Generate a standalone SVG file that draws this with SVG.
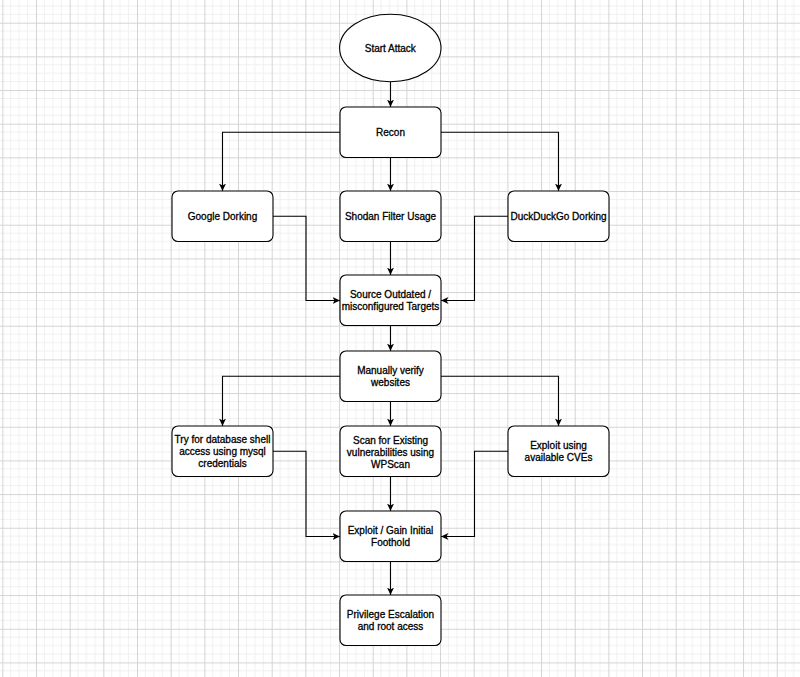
<svg xmlns="http://www.w3.org/2000/svg" width="800" height="677" viewBox="0 0 800 677">
  <defs>
    <pattern id="grid" patternUnits="userSpaceOnUse" x="2.33" y="22.7" width="33.67" height="33.67">
      <g stroke="#f0f0f0" stroke-width="1" fill="none">
        <line x1="8.42" y1="0" x2="8.42" y2="33.67"/>
        <line x1="16.83" y1="0" x2="16.83" y2="33.67"/>
        <line x1="25.25" y1="0" x2="25.25" y2="33.67"/>
        <line x1="0" y1="8.42" x2="33.67" y2="8.42"/>
        <line x1="0" y1="16.83" x2="33.67" y2="16.83"/>
        <line x1="0" y1="25.25" x2="33.67" y2="25.25"/>
      </g>
      <g stroke="#d4d4d4" stroke-width="1" fill="none">
        <line x1="0.5" y1="0" x2="0.5" y2="33.67"/>
        <line x1="0" y1="0.5" x2="33.67" y2="0.5"/>
      </g>
    </pattern>
    <marker id="arrow" viewBox="0 0 8 8" refX="7.5" refY="4" markerWidth="8" markerHeight="8" markerUnits="userSpaceOnUse" orient="auto">
      <path d="M0,0.5 L7.5,4 L0,7.5 L2,4 z" fill="#000"/>
    </marker>
  </defs>
  <style>
    .node { fill: #ffffff; stroke: #000000; stroke-width: 1.1; }
    .label { font-family: "Liberation Sans", Arial, Helvetica, sans-serif; font-size: 10px; fill: #000; text-anchor: middle; stroke: #000; stroke-width: 0.3; }
    .edge { fill: none; stroke: #000; stroke-width: 1.1; marker-end: url(#arrow); }
  </style>
  <rect x="0" y="0" width="800" height="677" fill="#ffffff"/>
  <rect x="0" y="0" width="800" height="677" fill="url(#grid)"/>

  <g id="connectors">
    <path class="edge" d="M390.5,82 L390.5,107"/>
    <path class="edge" d="M340,132.3 L222.5,132.3 L222.5,191"/>
    <path class="edge" d="M390.5,157.5 L390.5,191"/>
    <path class="edge" d="M441,132.3 L558.5,132.3 L558.5,191"/>
    <path class="edge" d="M273,216.3 L306,216.3 L306,300.5 L340,300.5"/>
    <path class="edge" d="M390.5,241.5 L390.5,275"/>
    <path class="edge" d="M508,216.3 L474.5,216.3 L474.5,300.5 L441,300.5"/>
    <path class="edge" d="M390.5,325.5 L390.5,351"/>
    <path class="edge" d="M340,376.3 L222.5,376.3 L222.5,426"/>
    <path class="edge" d="M390.5,401.5 L390.5,426"/>
    <path class="edge" d="M441,376.3 L558.5,376.3 L558.5,426"/>
    <path class="edge" d="M273,451.3 L306,451.3 L306,536.5 L340,536.5"/>
    <path class="edge" d="M390.5,477 L390.5,511"/>
    <path class="edge" d="M508,451.3 L474.5,451.3 L474.5,536.5 L441,536.5"/>
    <path class="edge" d="M390.5,561.5 L390.5,595"/>
  </g>

  <g id="start">
    <ellipse class="node" cx="390.3" cy="48" rx="50.7" ry="33.7"/>
    <text class="label" x="390.3" y="51.6">Start Attack</text>
  </g>
  <g id="recon">
    <rect class="node" x="340" y="107" width="101" height="50.5" rx="6"/>
    <text class="label" x="390.5" y="135.8">Recon</text>
  </g>
  <g id="google">
    <rect class="node" x="172" y="191" width="101" height="50.5" rx="6"/>
    <text class="label" x="222.5" y="219.8">Google Dorking</text>
  </g>
  <g id="shodan">
    <rect class="node" x="340" y="191" width="101" height="50.5" rx="6"/>
    <text class="label" x="390.5" y="219.8">Shodan Filter Usage</text>
  </g>
  <g id="duckduckgo">
    <rect class="node" x="508" y="191" width="101" height="50.5" rx="6"/>
    <text class="label" x="558.5" y="219.8">DuckDuckGo Dorking</text>
  </g>
  <g id="source">
    <rect class="node" x="340" y="275" width="101" height="50.5" rx="6"/>
    <text class="label" x="390.5" y="298.3">Source Outdated /</text>
    <text class="label" x="390.5" y="310.3">misconfigured Targets</text>
  </g>
  <g id="manual">
    <rect class="node" x="340" y="351" width="101" height="50.5" rx="6"/>
    <text class="label" x="390.5" y="373.6">Manually verify</text>
    <text class="label" x="390.5" y="385.8">websites</text>
  </g>
  <g id="database">
    <rect class="node" x="172" y="426" width="101" height="50.5" rx="6"/>
    <text class="label" x="222.5" y="443">Try for database shell</text>
    <text class="label" x="222.5" y="455">access using mysql</text>
    <text class="label" x="222.5" y="467">credentials</text>
  </g>
  <g id="wpscan">
    <rect class="node" x="340" y="426" width="101" height="50.5" rx="6"/>
    <text class="label" x="390.5" y="444.3">Scan for Existing</text>
    <text class="label" x="390.5" y="456.3">vulnerabilities using</text>
    <text class="label" x="390.5" y="468">WPScan</text>
  </g>
  <g id="cves">
    <rect class="node" x="508" y="426" width="101" height="50.5" rx="6"/>
    <text class="label" x="558.5" y="449.3">Exploit using</text>
    <text class="label" x="558.5" y="460.8">available CVEs</text>
  </g>
  <g id="foothold">
    <rect class="node" x="340" y="511" width="101" height="50.5" rx="6"/>
    <text class="label" x="390.5" y="533.6">Exploit / Gain Initial</text>
    <text class="label" x="390.5" y="545.8">Foothold</text>
  </g>
  <g id="privesc">
    <rect class="node" x="340" y="595" width="101" height="50.5" rx="6"/>
    <text class="label" x="390.5" y="618">Privilege Escalation</text>
    <text class="label" x="390.5" y="629.5">and root acess</text>
  </g>
</svg>
